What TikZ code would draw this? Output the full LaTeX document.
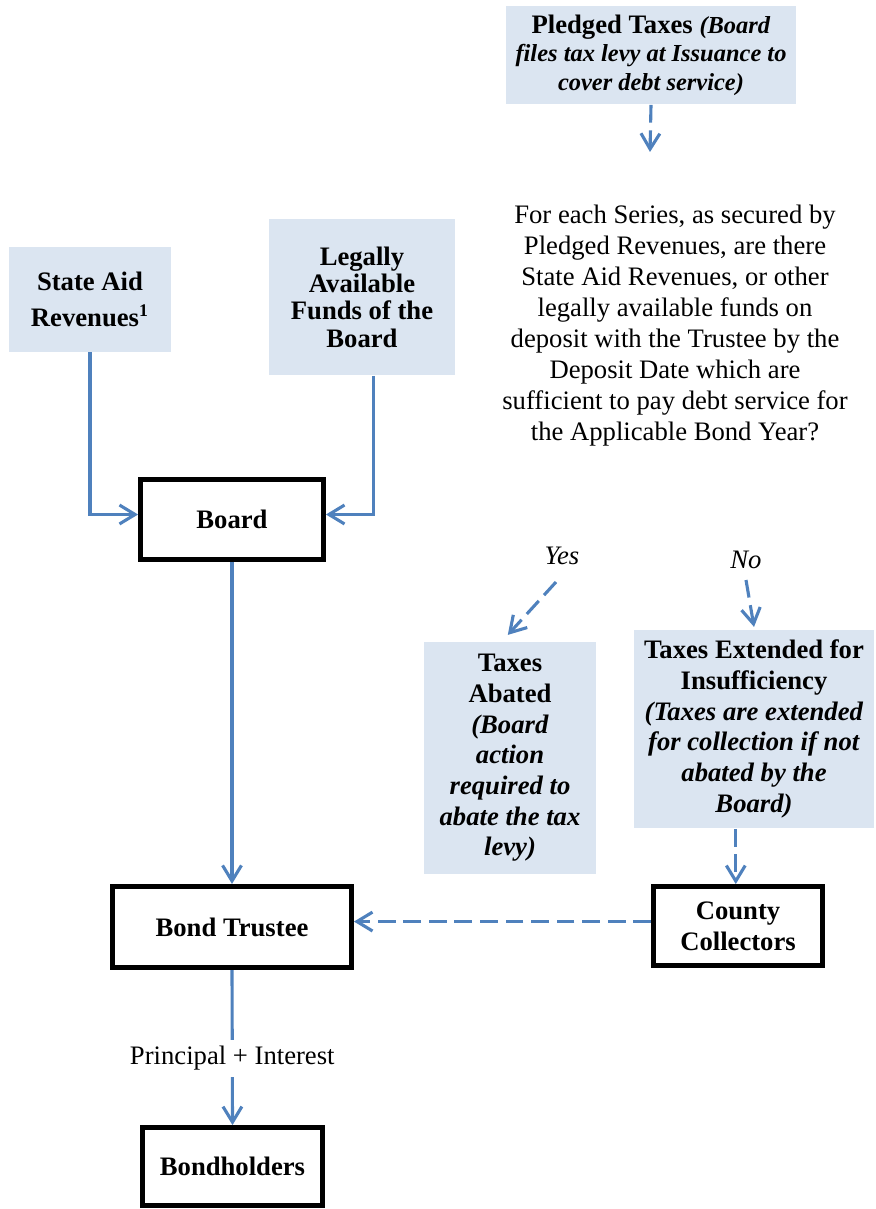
\documentclass[tikz,border=0pt]{standalone}
\usepackage{fontspec}
\setmainfont{Liberation Serif}
\usetikzlibrary{arrows.meta}

\definecolor{flowblue}{HTML}{4F81BD}
\definecolor{paleblue}{HTML}{DBE5F1}

\tikzset{
  srcbox/.style={fill=paleblue, align=center, inner sep=2pt,
    font=\bfseries\fontsize{12}{13.8}\selectfont},
  partybox/.style={draw=black, line width=2.25pt, align=center, inner sep=2pt,
    font=\bfseries\fontsize{12}{14}\selectfont},
  flow/.style={draw=flowblue, line width=1.4pt,
    -{Straight Barb[length=7pt,width=8.5pt,line width=1.4pt]}},
  dashflow/.style={flow, dash pattern=on 8pt off 3.5pt},
}

\begin{document}
\begin{tikzpicture}[x=0.45pt, y=-0.45pt]
\useasboundingbox (0,0) rectangle (875,1209);

% Sources
\node[srcbox, minimum width=130.5pt, minimum height=44.5pt,
  font=\bfseries\fontsize{12}{12.8}\selectfont] (pledged) at (651,55)
  {Pledged Taxes \textit{\fontsize{11}{12.8}\selectfont(Board}\\
   \textit{\fontsize{11}{12.8}\selectfont files tax levy at Issuance to}\\
   \textit{\fontsize{11}{12.8}\selectfont cover debt service)}};
\node[srcbox, minimum width=72.9pt, minimum height=47.2pt,
  font=\bfseries\fontsize{12}{16.2}\selectfont] (stateaid) at (90,299.5)
  {State Aid\\ Revenues\textsuperscript{1}};
\node[srcbox, minimum width=83.7pt, minimum height=70.6pt,
  font=\bfseries\fontsize{12}{12.3}\selectfont] (legally) at (362,297)
  {Legally\\ Available\\ Funds of the\\ Board};

% Question
\node[align=center, font=\fontsize{12}{13.95}\selectfont] (question) at (675,326)
  {For each Series, as secured by\\ Pledged Revenues, are there\\ State Aid Revenues, or other\\
   legally available funds on\\ deposit with the Trustee by the\\ Deposit Date which are\\
   sufficient to pay debt service for\\ the Applicable Bond Year?};
\coordinate (pledgedtip) at (650,152);

% Parties
\node[partybox, minimum width=82.3pt, minimum height=36pt] (board) at (232,519.5) {Board};
\node[partybox, minimum width=107.5pt, minimum height=36.5pt] (trustee) at (232,927) {Bond Trustee};
\node[partybox, minimum width=76pt, minimum height=35.5pt] (county) at (738,926) {County\\ Collectors};
\node[partybox, minimum width=81pt, minimum height=35pt] (bondholders) at (232.5,1166.5) {Bondholders};

% Outcomes
\node[font=\itshape\fontsize{12}{14}\selectfont] (yes) at (562,556) {Yes};
\node[font=\itshape\fontsize{12}{14}\selectfont] (no) at (746,560) {No};
\coordinate (yesfrom) at (556,582);
\coordinate (nofrom) at (746,580);
\node[srcbox, minimum width=77.4pt, minimum height=104.4pt] (abated) at (510,758)
  {Taxes\\ Abated\\ \textit{(Board}\\ \textit{action}\\ \textit{required to}\\ \textit{abate the tax}\\ \textit{levy)}};
\node[srcbox, minimum width=108pt, minimum height=89.5pt] (extended) at (754,729)
  {Taxes Extended for\\ Insufficiency\\ \textit{(Taxes are extended}\\ \textit{for collection if not}\\
   \textit{abated by the}\\ \textit{Board)}};

% Connectors
\draw[dashflow] (pledged.south) -- (pledgedtip);
\draw[flow] (stateaid.south) |- ([yshift=2.25pt]board.west);
\draw[flow] ([xshift=5pt]legally.south) |- ([yshift=2.25pt]board.east);
\draw[flow] (board.south) -- (trustee.north);
\draw[dashflow] (yesfrom) -- ([shift={(-1pt,3pt)}]abated.north);
\draw[dashflow] (nofrom) -- ([yshift=1pt]extended.north);
\draw[dashflow] ([xshift=-1pt]county.north |- extended.south) -- ([xshift=-1pt]county.north);
\draw[dashflow] ([yshift=2pt]county.west) -- ([yshift=2pt]county.west -| trustee.east);
\draw[flow] (trustee.south) -- (bondholders.north)
  node[pos=0.57, fill=white, inner sep=3pt, font=\fontsize{12}{14}\selectfont] (payment) {Principal + Interest};

\end{tikzpicture}
\end{document}
